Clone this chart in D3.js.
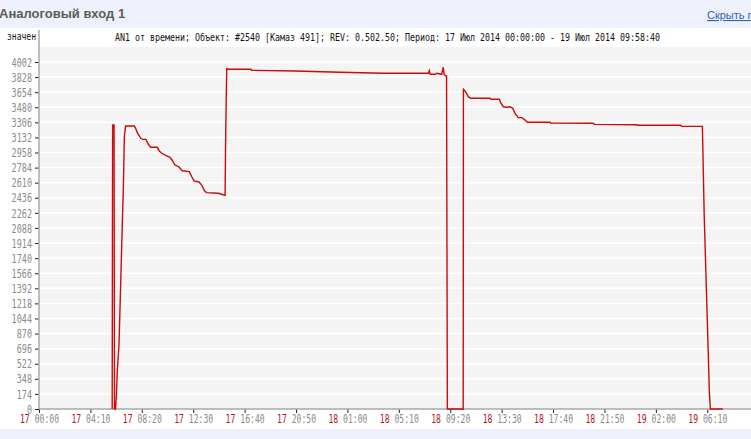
<!DOCTYPE html>
<html><head><meta charset="utf-8">
<script src="https://cdn.jsdelivr.net/npm/d3@7"></script>
<style>
html,body{margin:0;padding:0;background:#eef1fb;overflow:hidden;}
svg{display:block;}
</style></head><body>
<svg id="c" width="751" height="439"></svg>
<script>
// ---- data ----
const pageTitle = "Аналоговый вход 1";
const linkText = "Скрыть г";
const chartTitle = "AN1 от времени; Объект: #2540 [Камаз 491]; REV: 0.502.50; Период: 17 Июл 2014 00:00:00 - 19 Июл 2014 09:58:40";
const yLabel = "значен";
const periodStart = new Date(2014, 6, 17, 0, 0, 0);
const periodEnd = new Date(2014, 6, 19, 9, 58, 40);
// minutes since period start
const minutes = [356,358,365,367,372,376,381,389,396,407,410,415,421,464,470,478,495,504,520,532,543,575,585,597,616,637,647,661,679,697,731,743,754,778,791,806,816,872,903,905,908,913,922,1031,1034,1245,1464,1674,1893,1898,1902,1926,1934,1958,1966,1970,1979,1982,1986,2063,2064,2068,2077,2088,2099,2193,2198,2239,2245,2258,2275,2291,2304,2315,2331,2348,2364,2375,2485,2488,2696,2701,2907,2910,3121,3126,3226,3228,3231,3235,3240,3245,3250,3255,3260,3265,3325];
const values  = [0,3275,3275,0,0,138,450,738,1338,2295,2526,3137,3264,3264,3237,3187,3122,3110,3110,3053,3018,3018,2976,2949,2926,2903,2872,2814,2794,2748,2737,2679,2630,2618,2583,2511,2495,2488,2465,2465,3180,3925,3918,3918,3906,3898,3883,3872,3872,3902,3860,3860,3872,3860,3941,3856,3840,3840,0,0,3687,3679,3648,3602,3583,3583,3572,3572,3533,3486,3480,3486,3468,3410,3360,3360,3333,3307,3307,3298,3295,3283,3279,3272,3272,3260,3260,3064,2699,2238,1834,1430,1026,623,199,0,0];
const yTickValues = d3.range(0, 4003, 174);
const yMax = 4176;
const xTickStepMinutes = 250;

// ---- layout ----
const svg = d3.select("#c");
const W = 751, H = 439;
const mLeft = 39, mTop = 46.9, mBottom = 409, mRight = 754.3;

svg.append("rect").attr("x",0).attr("y",0).attr("width",W).attr("height",H).attr("fill","#eef1fb");
svg.append("rect").attr("x",0).attr("y",28).attr("width",W).attr("height",401).attr("fill","#ffffff");

svg.append("text").attr("x",-1).attr("y",18).attr("fill","#5c5c5c")
  .attr("font-family","Liberation Sans, Arial, sans-serif").attr("font-weight","bold").attr("font-size",13)
  .text(pageTitle);
svg.append("text").attr("x",707).attr("y",19).attr("fill","#2a62b8")
  .attr("font-family","Liberation Sans, Arial, sans-serif").attr("font-size",11)
  .attr("text-decoration","underline").text(linkText);

const x = d3.scaleTime().domain([periodStart, periodEnd]).range([mLeft, mRight]);
const y = d3.scaleLinear().domain([0, yMax]).range([mBottom, mTop]);

// plot background
svg.append("rect").attr("x",mLeft).attr("y",y(yMax)).attr("width",W-mLeft).attr("height",mBottom-y(yMax)).attr("fill","#f4f4f4");

// gridlines
svg.append("g").selectAll("line").data(yTickValues.filter(d=>d>0)).join("line")
  .attr("x1",mLeft).attr("x2",W).attr("y1",d=>y(d)).attr("y2",d=>y(d))
  .attr("stroke","#ffffff").attr("stroke-width",1.5);

const fontNarrow = "DejaVu Sans Mono, monospace";

// title
svg.append("text").attr("x",115).attr("y",41).attr("fill","#111")
  .attr("font-family",fontNarrow).attr("font-size",10.5)
  .attr("textLength",545).attr("lengthAdjust","spacingAndGlyphs").text(chartTitle);
svg.append("text").attr("x",7).attr("y",40).attr("fill","#111")
  .attr("font-family",fontNarrow).attr("font-size",10)
  .attr("textLength",29).attr("lengthAdjust","spacingAndGlyphs").text(yLabel);

// y axis
const yAxis = d3.axisLeft(y).tickValues(yTickValues).tickSize(4).tickPadding(3).tickFormat(d3.format("d"));
const gy = svg.append("g").attr("transform",`translate(${mLeft},0)`).call(yAxis);
gy.select(".domain").remove();
gy.selectAll(".tick line").attr("stroke","#222");
gy.selectAll(".tick text").attr("fill","#8a8a8a").attr("font-family",fontNarrow).attr("font-size",11.5)
  .attr("dy","0.36em")
  .each(function(d){ const n=String(d).length; d3.select(this).attr("textLength",n*5.1).attr("lengthAdjust","spacingAndGlyphs"); });
svg.append("line").attr("x1",mLeft).attr("x2",mLeft).attr("y1",30).attr("y2",mBottom).attr("stroke","#a8a8a8").attr("stroke-width",1.5);

// x axis
const xTicks = d3.range(0, 3479, xTickStepMinutes).map(m => d3.timeMinute.offset(periodStart, m));
const xAxis = d3.axisBottom(x).tickValues(xTicks).tickSize(4).tickPadding(2).tickFormat(d3.timeFormat("%d %H:%M"));
const gx = svg.append("g").attr("transform",`translate(0,${mBottom})`).call(xAxis);
gx.select(".domain").remove();
gx.selectAll(".tick line").attr("stroke","#222");
gx.selectAll(".tick text").each(function(d){
  const t = d3.select(this);
  t.text(null).attr("font-family",fontNarrow).attr("font-size",11.5).attr("y",6).attr("dy","0.71em")
   .attr("textLength",39).attr("lengthAdjust","spacingAndGlyphs");
  t.append("tspan").attr("fill","#b5121b").text(d3.timeFormat("%d")(d));
  t.append("tspan").attr("fill","#8a8a8a").text(" " + d3.timeFormat("%H:%M")(d));
});
svg.append("line").attr("x1",mLeft).attr("x2",W).attr("y1",mBottom).attr("y2",mBottom).attr("stroke","#a8a8a8").attr("stroke-width",1.5);

// data line
const pts = minutes.map((m,i)=>({t:d3.timeMinute.offset(periodStart,m), v:values[i]}));
const line = d3.line().x(d=>x(d.t)).y(d=>y(d.v));
svg.append("path").datum(pts).attr("d",line).attr("fill","none")
  .attr("stroke","#cc0a0a").attr("stroke-width",1.4).attr("stroke-linejoin","miter");
</script>
</body></html>
